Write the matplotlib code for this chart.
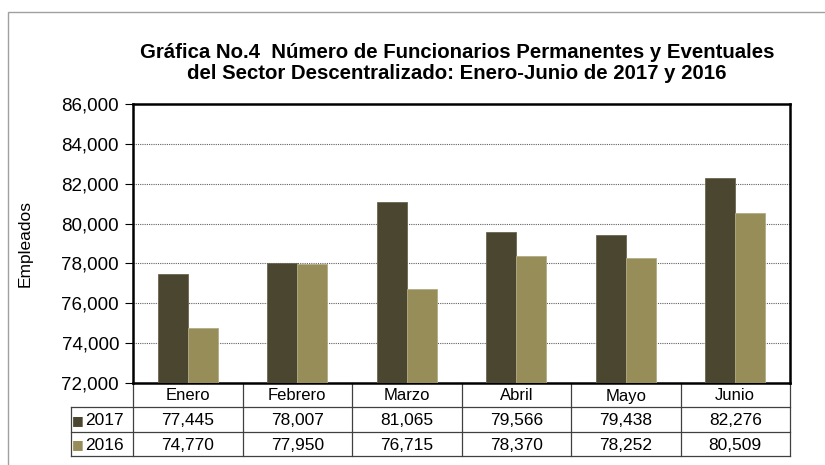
import matplotlib.pyplot as plt
import numpy as np
from matplotlib.patches import Rectangle

plt.rcParams["font.family"] = ["Liberation Sans", "DejaVu Sans"]

months = ["Enero", "Febrero", "Marzo", "Abril", "Mayo", "Junio"]
years = ["2017", "2016"]
values_2017 = [77445, 78007, 81065, 79566, 79438, 82276]
values_2016 = [74770, 77950, 76715, 78370, 78252, 80509]
y_ticks = [72000, 74000, 76000, 78000, 80000, 82000, 84000, 86000]

colors = ["#4b4630", "#978d58"]
title = ("Gráfica No.4  Número de Funcionarios Permanentes y Eventuales\n"
         "del Sector Descentralizado: Enero-Junio de 2017 y 2016")

W, H = 825, 465
fig = plt.figure(figsize=(W / 100, H / 100), dpi=100)

# outer chart frame (gray)
fig.patches.append(Rectangle((8 / W, -0.1), 1.2, (H - 12.5) / H + 0.1,
                             transform=fig.transFigure, fill=False,
                             edgecolor="#a0a0a0", linewidth=1.0))

# axes box in pixels
ax_l, ax_r, ax_t, ax_b = 133, 790, 104, 383
axw = ax_r - ax_l
axh = ax_b - ax_t
ax = fig.add_axes([ax_l / W, 1 - ax_b / H, axw / W, axh / H])

x = np.arange(len(months))
bw = 0.275
ax.bar(x - bw / 2, values_2017, bw, color=colors[0], edgecolor="#6a664f",
       linewidth=0.6, zorder=3)
ax.bar(x + bw / 2, values_2016, bw, color=colors[1], edgecolor="#b2ab86",
       linewidth=0.6, zorder=3)

ax.set_xlim(-0.5, len(months) - 0.5)
ax.set_ylim(y_ticks[0], y_ticks[-1])
ax.set_yticks(y_ticks)
ax.set_yticklabels([f"{v:,}" for v in y_ticks], fontsize=13.5)
ax.set_xticks([])
ax.tick_params(axis="y", length=6, width=0.8, pad=4)
ax.grid(axis="y", linestyle=(0, (1, 1)), color="#606060", linewidth=0.8, zorder=0)
for s in ax.spines.values():
    s.set_linewidth(1.8)
ax.set_ylabel("Empleados", fontsize=12.5)
ax.yaxis.set_label_coords((33 - ax_l) / axw, 0.5)

fig.text(457 / W, 1 - 63 / H, title, ha="center", va="center", fontsize=14.7,
         fontweight="bold", linespacing=1.1)


def px(xp, yp):
    # pixel position -> axes fraction
    return (xp - ax_l) / axw, (ax_b - yp) / axh


# data table under the axes
tab_l = 71
row_y = [383, 407, 432, 456]
col_w = axw / len(months)
col_x = [ax_l + i * col_w for i in range(len(months) + 1)]
line_kw = dict(color="#404040", linewidth=0.9, transform=ax.transAxes, clip_on=False)

for xc in col_x:
    (x0, y0), (x1, y1) = px(xc, row_y[0]), px(xc, row_y[-1])
    ax.plot([x0, x1], [y0, y1], **line_kw)
(x0, y0), (x1, y1) = px(tab_l, row_y[1]), px(tab_l, row_y[-1])
ax.plot([x0, x1], [y0, y1], **line_kw)
for yr in row_y[1:]:
    (x0, y0), (x1, y1) = px(tab_l, yr), px(ax_r, yr)
    ax.plot([x0, x1], [y0, y1], **line_kw)

for j, m in enumerate(months):
    xt, yt = px(col_x[j] + col_w / 2, (row_y[0] + row_y[1]) / 2 + 1)
    ax.text(xt, yt, m, ha="center", va="center", fontsize=12, transform=ax.transAxes)

for i, (yr, vals) in enumerate(zip(years, [values_2017, values_2016])):
    yc = (row_y[i + 1] + row_y[i + 2]) / 2 + 1
    xs, ys = px(tab_l + 1, yc)
    ax.text(xs, ys, "■", color=colors[i], fontsize=9, ha="left", va="center",
            transform=ax.transAxes, family="DejaVu Sans")
    xl, yl = px(tab_l + 14, yc)
    ax.text(xl, yl, yr, ha="left", va="center", fontsize=12.5, transform=ax.transAxes)
    for j, v in enumerate(vals):
        xt, yt = px(col_x[j] + col_w / 2, yc)
        ax.text(xt, yt, f"{v:,}", ha="center", va="center", fontsize=12.5,
                transform=ax.transAxes)

fig.savefig("out.png", dpi=100)
